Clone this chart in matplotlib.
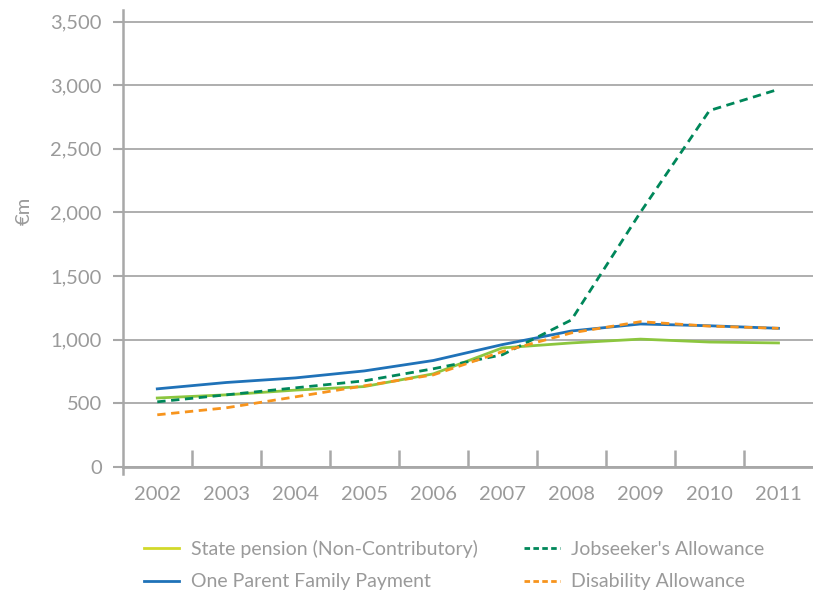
import matplotlib.pyplot as plt
from matplotlib.lines import Line2D

plt.rcParams['font.family'] = ['Lato', 'DejaVu Sans']

years = ["2002", "2003", "2004", "2005", "2006", "2007", "2008", "2009", "2010", "2011"]
state_pension = [540, 565, 602, 630, 730, 934, 973, 1003, 980, 973]
one_parent = [612, 662, 698, 753, 835, 960, 1067, 1122, 1108, 1088]
jobseekers = [510, 565, 620, 675, 770, 880, 1154, 2000, 2800, 2967]
disability = [408, 463, 549, 636, 722, 905, 1052, 1140, 1105, 1088]

text_col = "#9a9a9a"
grid_col = "#a8a8a8"

fig = plt.figure(figsize=(8.13, 5.93), dpi=100)
ax = fig.add_axes([0.151, 0.213, 0.849, 0.77])

x = range(len(years))
ax.plot(x, state_pension, color="#8cc63f", lw=2)
ax.plot(x, one_parent, color="#1f72b8", lw=2)
ax.plot(x, jobseekers, color="#00875a", lw=2, ls=(0, (3, 2)))
ax.plot(x, disability, color="#f7941d", lw=2, ls=(0, (3, 2)))

ax.set_xlim(-0.5, len(years) - 0.5)
ax.set_ylim(0, 3590)
ax.set_yticks(range(0, 3501, 500))
ax.set_yticklabels([f"{v:,}" for v in range(0, 3501, 500)])
ax.yaxis.grid(True, color=grid_col, lw=1.3)
ax.set_axisbelow(True)

ax.set_xticks(list(x))
ax.set_xticklabels(years)
ax.set_xticks([i + 0.5 for i in range(len(years) - 1)], minor=True)
ax.tick_params(axis="x", which="major", length=0, pad=14, labelsize=14.5, labelcolor=text_col)
ax.tick_params(axis="x", which="minor", direction="in", length=12, width=1.8, color=grid_col)
ax.tick_params(axis="y", length=7, width=1.5, color=grid_col, labelsize=14.5, labelcolor=text_col, pad=8)

for s in ["top", "right"]:
    ax.spines[s].set_visible(False)
ax.spines["left"].set_color(grid_col)
ax.spines["left"].set_linewidth(1.8)
ax.spines["bottom"].set_color(grid_col)
ax.spines["bottom"].set_linewidth(2)
ax.axvline(-0.5, ymin=-0.015, ymax=0, color=grid_col, lw=1.8, clip_on=False)

ax.set_ylabel("€m", color=text_col, fontsize=14.5)
ax.yaxis.set_label_coords(-0.13, 0.56)

handles = [
    Line2D([], [], color="#d2d92a", lw=2),
    Line2D([], [], color="#1f72b8", lw=2),
    Line2D([], [], color="#00875a", lw=2, ls=(0, (2, 1.2))),
    Line2D([], [], color="#f7941d", lw=2, ls=(0, (2, 1.2))),
]
labels = ["State pension (Non-Contributory)", "One Parent Family Payment",
          "Jobseeker's Allowance", "Disability Allowance"]
leg = fig.legend(handles, labels, ncol=2, loc="lower left", bbox_to_anchor=(0.155, -0.025),
                 frameon=False, fontsize=14, handlelength=1.85, handletextpad=0.6,
                 columnspacing=2.35, labelspacing=0.8)
for t in leg.get_texts():
    t.set_color(text_col)

fig.savefig("out.png", dpi=100)
